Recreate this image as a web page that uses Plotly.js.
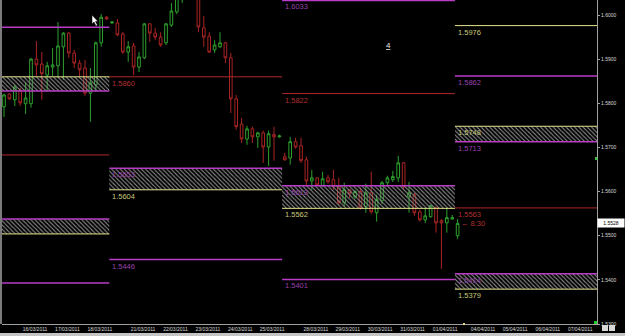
<!DOCTYPE html>
<html>
<head>
<meta charset="utf-8">
<script src="https://cdn.plot.ly/plotly-3.0.1.min.js"></script>
<style>html,body{margin:0;padding:0;background:#000;}#chart{width:625px;height:336px;}</style>
</head>
<body>
<div id="chart"></div>
<script>
// ---- Candles (H4 bars, index 0..84) ----
const barIndex = Array.from({length: 85}, (_, i) => i);
const openP = [1.5792,1.5821,1.5808,1.5830,1.5799,1.5799,1.5900,1.5889,1.5864,1.5882,
1.5885,1.5928,1.5959,1.5914,1.5891,1.5880,1.5823,1.5842,1.5937,1.5995,
1.5982,1.5982,1.5957,1.5916,1.5930,1.5882,1.5903,1.5980,1.5959,1.5950,
1.5937,1.5977,1.6007,1.6038,1.6057,1.6075,1.6050,1.5971,1.5952,1.5921,
1.5928,1.5937,1.5903,1.5810,1.5753,1.5719,1.5742,1.5724,1.5733,1.5701,
1.5729,1.5724,1.5679,1.5676,1.5713,1.5704,1.5672,1.5624,1.5631,1.5613,
1.5631,1.5627,1.5611,1.5575,1.5604,1.5588,1.5600,1.5566,1.5597,1.5552,
1.5579,1.5620,1.5627,1.5631,1.5665,1.5588,1.5593,1.5554,1.5536,1.5543,
1.5563,1.5534,1.5529,1.5538,1.5500];
const highP = [1.5822,1.5823,1.5842,1.5835,1.5848,1.5903,1.5941,1.5916,1.5894,1.5925,
1.5984,1.5961,1.5961,1.5921,1.5898,1.5898,1.5880,1.5940,1.6002,1.5998,
1.5986,1.5991,1.5962,1.5941,1.5937,1.5916,1.5982,1.5982,1.5971,1.5961,
1.5982,1.6027,1.6052,1.6068,1.6090,1.6085,1.6060,1.5998,1.5961,1.5943,
1.5961,1.5939,1.5914,1.5819,1.5767,1.5749,1.5747,1.5735,1.5738,1.5738,
1.5747,1.5729,1.5688,1.5724,1.5722,1.5722,1.5679,1.5649,1.5633,1.5645,
1.5638,1.5649,1.5631,1.5620,1.5605,1.5604,1.5609,1.5618,1.5645,1.5593,
1.5624,1.5636,1.5647,1.5681,1.5667,1.5622,1.5597,1.5559,1.5563,1.5570,
1.5566,1.5538,1.5563,1.5547,1.5538];
const lowP = [1.5769,1.5808,1.5794,1.5794,1.5776,1.5790,1.5862,1.5808,1.5826,1.5862,
1.5858,1.5853,1.5903,1.5880,1.5860,1.5817,1.5758,1.5826,1.5928,1.5989,
1.5980,1.5952,1.5912,1.5894,1.5864,1.5871,1.5900,1.5939,1.5943,1.5928,
1.5932,1.5973,1.6002,1.6027,1.6045,1.6040,1.5961,1.5928,1.5914,1.5914,
1.5925,1.5891,1.5778,1.5740,1.5710,1.5706,1.5710,1.5699,1.5665,1.5658,
1.5670,1.5722,1.5670,1.5661,1.5697,1.5665,1.5615,1.5604,1.5613,1.5611,
1.5618,1.5604,1.5570,1.5566,1.5586,1.5584,1.5559,1.5552,1.5550,1.5532,
1.5572,1.5615,1.5622,1.5622,1.5604,1.5552,1.5545,1.5532,1.5529,1.5541,
1.5507,1.5425,1.5507,1.5536,1.5493];
const closeP = [1.5819,1.5810,1.5837,1.5801,1.5812,1.5900,1.5887,1.5867,1.5885,1.5887,
1.5930,1.5959,1.5914,1.5891,1.5876,1.5823,1.5846,1.5937,1.5995,1.5991,
1.5984,1.5955,1.5916,1.5928,1.5882,1.5905,1.5980,1.5959,1.5950,1.5932,
1.5980,1.6009,1.6041,1.6057,1.6075,1.6050,1.5973,1.5950,1.5916,1.5932,
1.5937,1.5903,1.5810,1.5747,1.5719,1.5742,1.5724,1.5733,1.5701,1.5731,
1.5724,1.5726,1.5672,1.5713,1.5701,1.5670,1.5624,1.5631,1.5615,1.5629,
1.5622,1.5611,1.5575,1.5604,1.5595,1.5600,1.5563,1.5597,1.5554,1.5582,
1.5620,1.5631,1.5634,1.5665,1.5611,1.5597,1.5552,1.5536,1.5545,1.5568,
1.5529,1.5529,1.5541,1.5541,1.5528];

// ---- Date axis ----
const dayLabels = ['16/03/2011','17/03/2011','18/03/2011','21/03/2011','22/03/2011','23/03/2011','24/03/2011','25/03/2011','28/03/2011','29/03/2011','30/03/2011','31/03/2011','01/04/2011','04/04/2011','05/04/2011','06/04/2011','07/04/2011'];
const dayBar = [5.75,11.75,17.75,25.75,31.75,37.75,43.75,49.65,57.75,63.65,69.65,75.65,81.7,88.7,94.65,100.7,106.7];

// ---- Weekly levels ----
const weekStart = [-1, 19.5, 51.5, 83.5];
const weekEnd = [19.5, 51.5, 83.5, 111];
const weekLabelled = [false, true, true, true];

const lineWeek = [0,0,0, 1,1, 2,2,2, 3,3,3];
const linePrice = [1.5972,1.5683,1.5393, 1.5860,1.5446, 1.6033,1.5822,1.5401, 1.5976,1.5862,1.5563];
const lineKind = ['m','r','m', 'r','m', 'm','r','m', 'y','m','r'];

const boxWeek = [0,0,1,2,3,3];
const boxTop = [1.5860,1.5538,1.5653,1.5613,1.5748,1.5414];
const boxBottom = [1.5828,1.5504,1.5604,1.5562,1.5713,1.5379];
const boxTopKind = ['y','m','m','m','y','m'];
const boxBottomKind = ['m','y','y','y','m','y'];

const yTicks = [1.53,1.54,1.55,1.56,1.57,1.58,1.59,1.60];
const lastPrice = 1.5528;

// ---- styles ----
const lineColor = {m:'#b83cc6', r:'#b02828', y:'#e4e48c'};
const labelColor = {m:'#9a40ad', r:'#b03030', y:'#c8c87a'};
const upColor = '#2ea02e', downColor = '#aa2424';

const traces = [];
const annotations = [];
const segs = {m:{x:[],y:[]}, r:{x:[],y:[]}, y:{x:[],y:[]}};
function addSeg(kind, w, p){
  segs[kind].x.push(weekStart[w], weekEnd[w], null);
  segs[kind].y.push(p, p, null);
  if (weekLabelled[w]) {
    annotations.push({xref:'x', yref:'y', x: weekStart[w] + 0.3, y: p, xanchor:'left', yanchor:'top',
      text: p.toFixed(4), showarrow:false, borderpad:0, yshift:-1,
      font:{family:'Liberation Sans, Arial, sans-serif', size:7.5, color: labelColor[kind]}});
  }
}
boxWeek.forEach((w, i) => {
  const s = weekStart[w], e = weekEnd[w];
  traces.push({type:'scatter', mode:'lines', x:[s,e,e,s,s], y:[boxBottom[i],boxBottom[i],boxTop[i],boxTop[i],boxBottom[i]],
    fill:'toself', fillcolor:'rgba(0,0,0,0)', line:{width:0, color:'rgba(0,0,0,0)'},
    fillpattern:{shape:'\\', fgcolor:'#8e8e8e', bgcolor:'rgba(0,0,0,0)', size:3, solidity:0.35},
    hoverinfo:'skip', showlegend:false});
  addSeg(boxTopKind[i], w, boxTop[i]);
  addSeg(boxBottomKind[i], w, boxBottom[i]);
});
lineWeek.forEach((w, i) => addSeg(lineKind[i], w, linePrice[i]));
['r','y','m'].forEach(k => {
  traces.push({type:'scatter', mode:'lines', x: segs[k].x, y: segs[k].y, connectgaps:false,
    line:{color: lineColor[k], width: k==='m' ? 1.5 : 1}, hoverinfo:'skip', showlegend:false});
});

traces.push({type:'candlestick', x: barIndex, open: openP, high: highP, low: lowP, close: closeP,
  increasing:{line:{color: upColor, width:1}, fillcolor:'#000'},
  decreasing:{line:{color: downColor, width:1}, fillcolor:'#000'},
  whiskerwidth:0, hoverinfo:'skip', showlegend:false});

// helpers for pixel-ish decorations (paper coords)
const PX = x => (x - 2) / 595;
const PY = y => 1 - y / 324;

annotations.push({xref:'x', yref:'y', x: (388-4)/5.4, y: 1.5930, text:'<u>4</u>', showarrow:false,
  font:{family:'Liberation Sans, Arial', size:8, color:'#e8e8e8'}});
annotations.push({xref:'x', yref:'y', x: barIndex[barIndex.length-1] + 0.5, y: lastPrice, xanchor:'left', yanchor:'middle',
  text:'\u2190 8:30', showarrow:false, borderpad:0,
  font:{family:'Liberation Sans, Arial', size:7.5, color:'#b03030'}});
annotations.push({xref:'paper', yref:'y', x: 1.0, y: lastPrice, xanchor:'left', yanchor:'middle',
  text: lastPrice.toFixed(4), showarrow:false, bgcolor:'#ffffff', borderpad:1, width:24,
  font:{family:'Liberation Sans, Arial', size:5, color:'#000'}});

function pathOf(pts){ return 'M' + pts.map(p => PX(p[0]) + ',' + PY(p[1])).join(' L') + ' Z'; }
const shapes = [
  {type:'rect', xref:'paper', yref:'paper', x0:PX(0), x1:PX(2), y0:PY(324), y1:PY(0), fillcolor:'#7a7a7a', line:{width:0}},
  {type:'rect', xref:'paper', yref:'paper', x0:PX(0), x1:PX(625), y0:PY(333), y1:PY(337), fillcolor:'#c4c4c4', line:{width:0}},
  {type:'rect', xref:'paper', yref:'paper', x0:PX(594), x1:PX(597), y0:PY(324), y1:PY(321), fillcolor:'#22cc22', line:{width:0}},
  {type:'rect', xref:'paper', yref:'paper', x0:PX(595), x1:PX(597.5), y0:PY(160), y1:PY(157), fillcolor:'#44bb44', line:{width:0}},
  {type:'rect', xref:'paper', yref:'paper', x0:PX(463), x1:PX(465), y0:PY(325), y1:PY(323), fillcolor:'#e0e080', line:{width:0}},
  {type:'rect', xref:'paper', yref:'paper', x0:PX(602), x1:PX(608), y0:PY(331), y1:PY(325), fillcolor:'#d8d8d8', line:{width:0}},
  {type:'rect', xref:'paper', yref:'paper', x0:PX(609), x1:PX(615), y0:PY(331), y1:PY(325), fillcolor:'#d8d8d8', line:{width:0}},
  {type:'path', xref:'paper', yref:'paper', path: pathOf([[92,15],[92,24],[94,22],[96,26],[97.5,25.3],[95.5,21.5],[98,21.5]]), fillcolor:'#ffffff', line:{color:'#000', width:0.5}}
];

const layout = {
  width:625, height:336,
  margin:{l:2, r:28, t:0, b:12, pad:0},
  paper_bgcolor:'#000', plot_bgcolor:'#000',
  showlegend:false,
  xaxis:{range:[-0.37, 109.81], tickvals: dayBar, ticktext: dayLabels, tickmode:'array',
    showgrid:false, zeroline:false, showline:true, linecolor:'#a0a0a0', linewidth:1,
    ticks:'', tickfont:{family:'Liberation Sans, Arial', size:5, color:'#d8d8d8'},
    rangeslider:{visible:false}, fixedrange:true},
  yaxis:{range:[1.5300, 1.6034], side:'right', tickmode:'array', tickvals: yTicks, ticktext: yTicks.map(v => v.toFixed(4)),
    showgrid:false, zeroline:false, showline:true, linecolor:'#a0a0a0', linewidth:1,
    ticks:'outside', ticklen:2, tickcolor:'#a0a0a0',
    tickfont:{family:'Liberation Sans, Arial', size:5, color:'#d8d8d8'}, fixedrange:true},
  annotations: annotations,
  shapes: shapes
};
Plotly.newPlot('chart', traces, layout, {staticPlot:true, displayModeBar:false});
</script>
</body>
</html>
